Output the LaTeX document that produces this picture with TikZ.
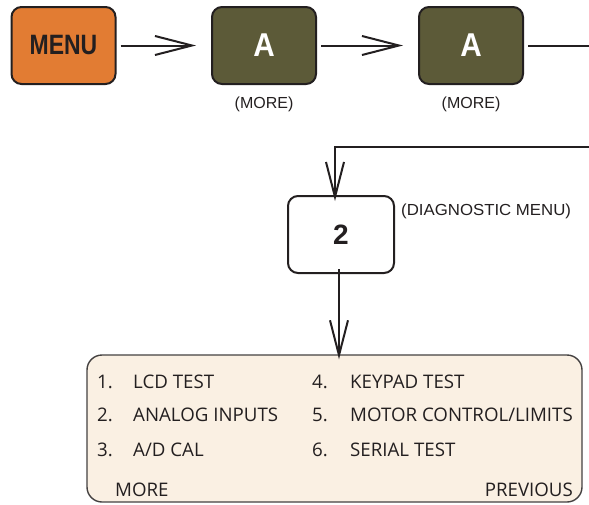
\documentclass[tikz,border=0pt]{standalone}
\usepackage{fontspec}
\setmainfont{Open Sans}
\newfontfamily\labfont{Liberation Sans}
\usetikzlibrary{arrows.meta}
\definecolor{menuorange}{HTML}{E27C33}
\definecolor{olive}{HTML}{5C5A38}
\definecolor{beige}{HTML}{FAF0E3}
\definecolor{ink}{HTML}{231F20}
\tikzset{
  keybox/.style={draw=ink, line width=2pt, rounded corners=10pt, minimum width=104pt, minimum height=77pt, inner sep=0pt},
  conn/.style={draw=ink, line width=2pt},
  hhead/.style={-{Straight Barb[length=37pt,width=19pt,line width=2pt]}},
  vhead/.style={-{Straight Barb[length=35pt,width=18pt,line width=2pt]}},
  note/.style={font=\labfont\fontsize{16}{18}\selectfont, text=ink, inner sep=0pt},
  item/.style={font=\fontsize{18.7}{20}\selectfont, text=ink, inner sep=0pt, anchor=base west},
}
\begin{document}
\begin{tikzpicture}[x=1pt,y=-1pt]
\useasboundingbox (0,0) rectangle (589,504);
% top row
\node[keybox, fill=menuorange] (menu) at (63.5,45.5) {\scalebox{0.82}[1]{\labfont\bfseries\fontsize{28}{30}\selectfont\color{ink}MENU}};
\node[keybox, fill=olive] (a1) at (264,45.5) {\scalebox{0.9}[1]{\labfont\bfseries\fontsize{33}{36}\selectfont\color{white}A}};
\node[keybox, fill=olive] (a2) at (471,45.5) {\scalebox{0.9}[1]{\labfont\bfseries\fontsize{33}{36}\selectfont\color{white}A}};
\node[note] (more1) at (264,104) {(MORE)};
\node[note] (more2) at (471,104) {(MORE)};
\draw[conn, hhead] (menu.east) ++(4pt,0) -- ([xshift=-15pt]a1.west);
\draw[conn, hhead] (a1.east) ++(4pt,0) -- ([xshift=-15pt]a2.west);
% diagnostic key
\node[keybox, fill=white, minimum width=106pt] (two) at (341,234.5) {\labfont\bfseries\fontsize{28}{30}\selectfont\color{ink}2};
\node[note, anchor=west] (diag) at (401,211) {\scalebox{1.05}[1]{(DIAGNOSTIC MENU)}};
\coordinate (c1) at (594,45.5);
\coordinate (c2) at (594,147);
\coordinate (c3) at (335,147);
\draw[conn, vhead] ([xshift=4pt]a2.east) -- (c1) -- (c2) -- (c3) -- ([yshift=-6pt]two.north -| c3);
% list box
\node[draw=ink!85, line width=1.4pt, fill=beige, rounded corners=15pt, minimum width=495pt, minimum height=147pt, inner sep=0pt] (list) at (334.5,428.5) {};
\draw[conn, vhead] ([yshift=5pt]two.south -| 339,0) -- ([yshift=-5pt]list.north -| 339,0);
\node[item] (n1) at (97,388) {1.};
\node[item] (t1) at (133,388) {LCD TEST};
\node[item] (n2) at (97,421) {2.};
\node[item] (t2) at (133,421) {ANALOG INPUTS};
\node[item] (n3) at (97,456) {3.};
\node[item] (t3) at (133,456) {A/D CAL};
\node[item] (n4) at (312,388) {4.};
\node[item] (t4) at (350,388) {KEYPAD TEST};
\node[item] (n5) at (312,421) {5.};
\node[item] (t5) at (350,421) {MOTOR CONTROL/LIMITS};
\node[item] (n6) at (312,456) {6.};
\node[item] (t6) at (350,456) {SERIAL TEST};
\node[item] (mo) at (115,496) {MORE};
\node[item, anchor=base east] (pr) at (573,496) {PREVIOUS};
\end{tikzpicture}
\end{document}
